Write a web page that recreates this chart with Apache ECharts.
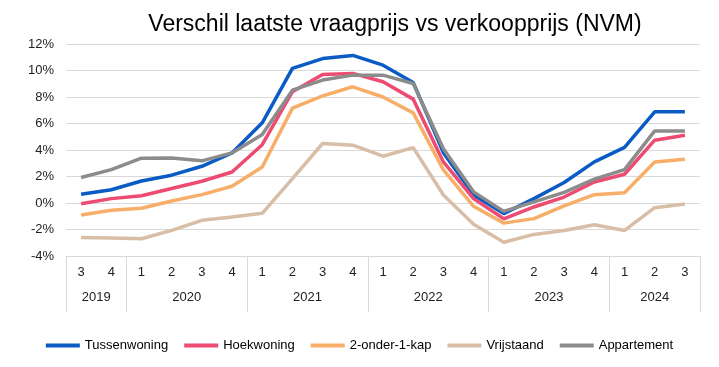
<!DOCTYPE html>
<html>
<head>
<meta charset="utf-8">
<script src="https://cdn.jsdelivr.net/npm/echarts@6/dist/echarts.min.js"></script>
<style>html,body{margin:0;padding:0;background:#fff}#c{width:719px;height:367px}</style>
</head>
<body>
<div id="c"></div>
<script>
const quarters = ['3','4','1','2','3','4','1','2','3','4','1','2','3','4','1','2','3','4','1','2','3'];
const years = ['2019','2020','2021','2022','2023','2024'];
const yearBoundaries = [0, 2, 6, 10, 14, 18, 21];
const yearCenters = [1, 4, 8, 12, 16, 19.5];

const tussenwoning = [0.66,1.0,1.66,2.1,2.77,3.78,6.05,10.16,10.9,11.14,10.4,9.1,3.8,0.6,-0.8,0.33,1.55,3.1,4.2,6.88,6.88];
const hoekwoning   = [-0.05,0.33,0.55,1.1,1.64,2.34,4.4,8.4,9.7,9.78,9.15,7.84,3.1,0.33,-1.19,-0.3,0.45,1.59,2.17,4.74,5.12];
const onder1kap    = [-0.91,-0.55,-0.4,0.15,0.63,1.26,2.72,7.16,8.09,8.77,8.0,6.8,2.5,-0.25,-1.52,-1.18,-0.22,0.63,0.78,3.1,3.3];
const vrijstaand   = [-2.6,-2.65,-2.7,-2.07,-1.31,-1.06,-0.78,1.84,4.49,4.36,3.53,4.18,0.6,-1.6,-2.96,-2.37,-2.07,-1.64,-2.07,-0.35,-0.08];
const appartement  = [1.92,2.52,3.38,3.4,3.18,3.78,5.17,8.52,9.28,9.65,9.65,9.02,4.1,0.84,-0.63,0.08,0.8,1.8,2.52,5.44,5.44];

const seriesNames = ['Tussenwoning','Hoekwoning','2-onder-1-kap','Vrijstaand','Appartement'];
const seriesData = [tussenwoning, hoekwoning, onder1kap, vrijstaand, appartement];
const colors = ['#0A5BC4','#EE4B72','#F7AE68','#D8BEA6','#8C8C8C'];

const font = 'Liberation Sans, Arial, sans-serif';
const chart = echarts.init(document.getElementById('c'), null, {renderer:'canvas'});
chart.setOption({
  animation: false,
  color: colors,
  title: {
    text: 'Verschil laatste vraagprijs vs verkoopprijs (NVM)',
    left: 390, textAlign: 'center', top: 8,
    textStyle: {fontFamily: font, fontSize: 23, fontWeight: 'normal', color: '#000'}
  },
  legend: {
    bottom: 10, left: 'center',
    icon: 'rect', itemWidth: 34, itemHeight: 4, itemGap: 16,
    textStyle: {fontFamily: font, fontSize: 13, color: '#000'},
    data: seriesNames
  },
  grid: {left: 66, right: 19, top: 44, bottom: 111},
  xAxis: [
    {
      type: 'category', data: quarters, position: 'bottom', boundaryGap: true,
      axisLine: {show: true, lineStyle: {color: '#D9D9D9', width: 1}},
      axisTick: {show: false},
      axisLabel: {fontFamily: font, fontSize: 13, color: '#222', margin: 10, interval: 0}
    },
    {
      type: 'value', min: 0, max: 21, position: 'bottom',
      axisLine: {show: false},
      splitLine: {show: false},
      axisTick: {show: true, customValues: yearBoundaries, length: 56, lineStyle: {color: '#D9D9D9', width: 1}},
      axisLabel: {
        customValues: yearCenters, fontFamily: font, fontSize: 13, color: '#222', margin: 35,
        formatter: function (v) { return years[yearCenters.indexOf(v)]; }
      }
    }
  ],
  yAxis: {
    type: 'value', min: -4, max: 12, interval: 2,
    axisLine: {show: false}, axisTick: {show: false},
    splitLine: {lineStyle: {color: '#D9D9D9', width: 1}},
    axisLabel: {fontFamily: font, fontSize: 13, color: '#222', margin: 12, formatter: '{value}%'}
  },
  series: seriesNames.map((n, i) => ({
    name: n, type: 'line', data: seriesData[i], xAxisIndex: 0,
    symbol: 'none', lineStyle: {width: 3.5, color: colors[i]}, itemStyle: {color: colors[i]}
  }))
});
</script>
</body>
</html>
